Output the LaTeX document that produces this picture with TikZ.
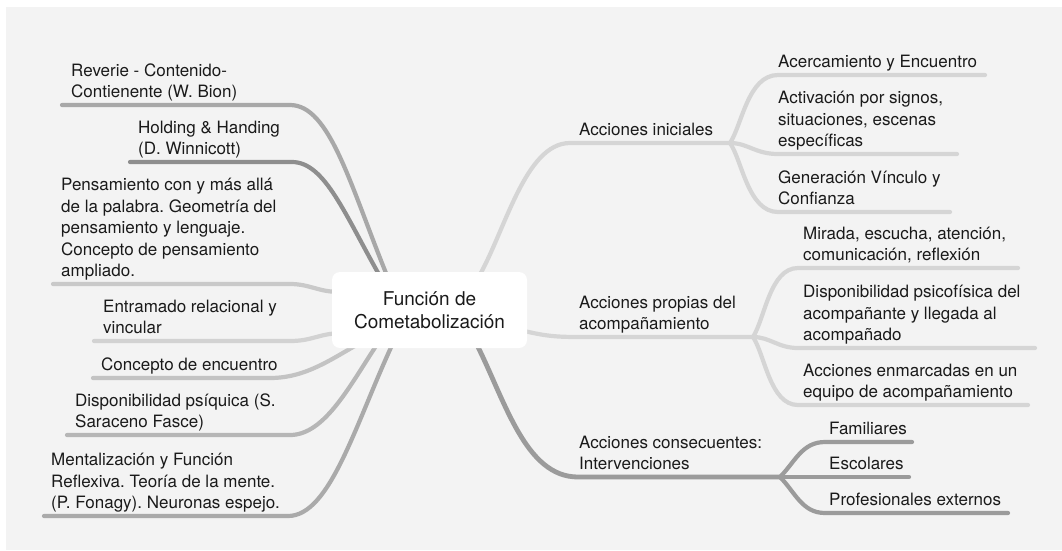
\documentclass[tikz,border=0pt]{standalone}
\usepackage{fontspec}
\setmainfont{TeX Gyre Heros}
\frenchspacing
\definecolor{paper}{HTML}{F3F3F3}
\definecolor{ink}{HTML}{1A1A1A}
\definecolor{cRev}{HTML}{A8A8A8}
\definecolor{cHold}{HTML}{8E8E8E}
\definecolor{cPens}{HTML}{C9C9C9}
\definecolor{cEntr}{HTML}{D2D2D2}
\definecolor{cConc}{HTML}{C3C3C3}
\definecolor{cDisp}{HTML}{B6B6B6}
\definecolor{cMent}{HTML}{AAAAAA}
\definecolor{cLight}{HTML}{D5D5D5}
\definecolor{cDark}{HTML}{9B9B9B}
% fixed depth under the last line of every label
\newcommand{\tailstrut}{\rule[-6pt]{0pt}{6pt}}
\begin{document}
\begin{tikzpicture}[x=1pt,y=-1pt,
  label/.style={anchor=south west, inner sep=0pt, align=left, text=ink,
    font=\fontsize{17}{21.5}\selectfont},
  branch/.style={line width=4.2pt, line cap=round, draw=#1},
  rootbox/.style={fill=white, rounded corners=8pt, minimum width=195pt,
    minimum height=76pt, align=center, text=ink, inner sep=0pt,
    font=\fontsize{19}{23}\selectfont}]
\useasboundingbox (0,0) rectangle (1062,550);
\fill[paper] (6,7) rectangle (1062,550);

% attachment points on the central box
\coordinate (aRev)  at (388,278);
\coordinate (aHold) at (381,278);
\coordinate (aPens) at (340,292);
\coordinate (aEntr) at (340,333);
\coordinate (aConc) at (360,343);
\coordinate (aDisp) at (378,343);
\coordinate (aMent) at (393,343);
\coordinate (aIni)  at (478,278);
\coordinate (aProp) at (520,330);
\coordinate (aCons) at (476,343);

% left-hand branches: underline end, bend point
\coordinate (lRev)  at (62,105);  \coordinate (jRev)  at (290,105);
\coordinate (lHold) at (130,162); \coordinate (jHold) at (292,162);
\coordinate (lPens) at (53,284);  \coordinate (jPens) at (290,284);
\coordinate (lEntr) at (94,341);  \coordinate (jEntr) at (290,341);
\coordinate (lConc) at (93,378);  \coordinate (jConc) at (270,378);
\coordinate (lDisp) at (67,435);  \coordinate (jDisp) at (290,435);
\coordinate (lMent) at (44,516);  \coordinate (jMent) at (288,516);

% right-hand junctions
\coordinate (kIni)  at (570,143); \coordinate (jIni)  at (730,143);
\coordinate (kProp) at (580,337); \coordinate (jProp) at (753,337);
\coordinate (kCons) at (578,477); \coordinate (jCons) at (780,477);

% right-hand leaf underlines
\coordinate (sA1) at (778,75);  \coordinate (eA1) at (985,75);
\coordinate (sA2) at (778,154); \coordinate (eA2) at (957,154);
\coordinate (sA3) at (778,212); \coordinate (eA3) at (950,212);
\coordinate (sB1) at (798,268); \coordinate (eB1) at (1018,268);
\coordinate (sB2) at (798,348); \coordinate (eB2) at (1035,348);
\coordinate (sB3) at (798,405); \coordinate (eB3) at (1028,405);
\coordinate (sC1) at (825,442); \coordinate (eC1) at (912,442);
\coordinate (sC2) at (825,477); \coordinate (eC2) at (909,477);
\coordinate (sC3) at (825,513); \coordinate (eC3) at (1008,513);

% left connectors
\draw[branch=cRev]  (lRev) -- (jRev) .. controls (330,105) and (350,185) .. (aRev);
\draw[branch=cHold] (lHold) -- (jHold) .. controls (325,162) and (345,215) .. (aHold);
\draw[branch=cPens] (lPens) -- (jPens) .. controls (310,284) and (318,292) .. (aPens);
\draw[branch=cEntr] (lEntr) -- (jEntr) .. controls (312,341) and (318,334) .. (aEntr);
\draw[branch=cConc] (lConc) -- (jConc) .. controls (305,378) and (330,360) .. (aConc);
\draw[branch=cDisp] (lDisp) -- (jDisp) .. controls (325,435) and (350,385) .. (aDisp);
\draw[branch=cMent] (lMent) -- (jMent) .. controls (330,516) and (355,425) .. (aMent);

% right connectors
\draw[branch=cLight] (aIni) .. controls (505,232) and (525,143) .. (kIni) -- (jIni);
\draw[branch=cLight] (jIni) .. controls (742,125) and (748,75) .. (sA1) -- (eA1);
\draw[branch=cLight] (jIni) .. controls (748,143) and (755,154) .. (sA2) -- (eA2);
\draw[branch=cLight] (jIni) .. controls (742,160) and (748,212) .. (sA3) -- (eA3);

\draw[branch=cLight] (aProp) .. controls (545,336) and (555,337) .. (kProp) -- (jProp);
\draw[branch=cLight] (jProp) .. controls (765,318) and (770,268) .. (sB1) -- (eB1);
\draw[branch=cLight] (jProp) .. controls (770,337) and (778,348) .. (sB2) -- (eB2);
\draw[branch=cLight] (jProp) .. controls (765,355) and (770,405) .. (sB3) -- (eB3);

\draw[branch=cDark, line width=4.8pt] (aCons) .. controls (505,400) and (525,477) .. (kCons) -- (jCons);
\draw[branch=cDark] (jCons) .. controls (795,462) and (802,442) .. (sC1) -- (eC1);
\draw[branch=cDark] (jCons) -- (sC2) -- (eC2);
\draw[branch=cDark] (jCons) .. controls (795,492) and (802,513) .. (sC3) -- (eC3);

% central topic
\node[rootbox] (root) at (429.5,310) {Función de\\Cometabolización};

% left labels
\node[label] (tRev)  at (71,104)  {Reverie - Contenido-\\Contienente (W. Bion)\tailstrut};
\node[label] (tHold) at (138,161) {Holding \& Handing\\(D. Winnicott)\tailstrut};
\node[label] (tPens) at (61,283)  {Pensamiento con y más allá\\de la palabra. Geometría del\\pensamiento y lenguaje.\\Concepto de pensamiento\\ampliado.\tailstrut};
\node[label] (tEntr) at (103,340) {Entramado relacional y\\vincular\tailstrut};
\node[label] (tConc) at (101,377) {Concepto de encuentro\tailstrut};
\node[label] (tDisp) at (75,434)  {Disponibilidad psíquica (S.\\Saraceno Fasce)\tailstrut};
\node[label] (tMent) at (51,515)  {Mentalización y Función\\Reflexiva. Teoría de la mente.\\(P. Fonagy). Neuronas espejo.\tailstrut};

% right labels
\node[label] (tIni)  at (579,142) {Acciones iniciales\tailstrut};
\node[label] (tA1)   at (778,74)  {Acercamiento y Encuentro\tailstrut};
\node[label] (tA2)   at (778,153) {Activación por signos,\\situaciones, escenas\\específicas\tailstrut};
\node[label] (tA3)   at (778,211) {Generación Vínculo y\\Confianza\tailstrut};

\node[label] (tProp) at (579,336) {Acciones propias del\\acompañamiento\tailstrut};
\node[label] (tB1)   at (803,267) {Mirada, escucha, atención,\\comunicación, reflexión\tailstrut};
\node[label] (tB2)   at (803,347) {Disponibilidad psicofísica del\\acompañante y llegada al\\acompañado\tailstrut};
\node[label] (tB3)   at (803,404) {Acciones enmarcadas en un\\equipo de acompañamiento\tailstrut};

\node[label] (tCons) at (579,476) {Acciones consecuentes:\\Intervenciones\tailstrut};
\node[label] (tC1)   at (829,441) {Familiares\tailstrut};
\node[label] (tC2)   at (829,476) {Escolares\tailstrut};
\node[label] (tC3)   at (829,512) {Profesionales externos\tailstrut};
\end{tikzpicture}
\end{document}
